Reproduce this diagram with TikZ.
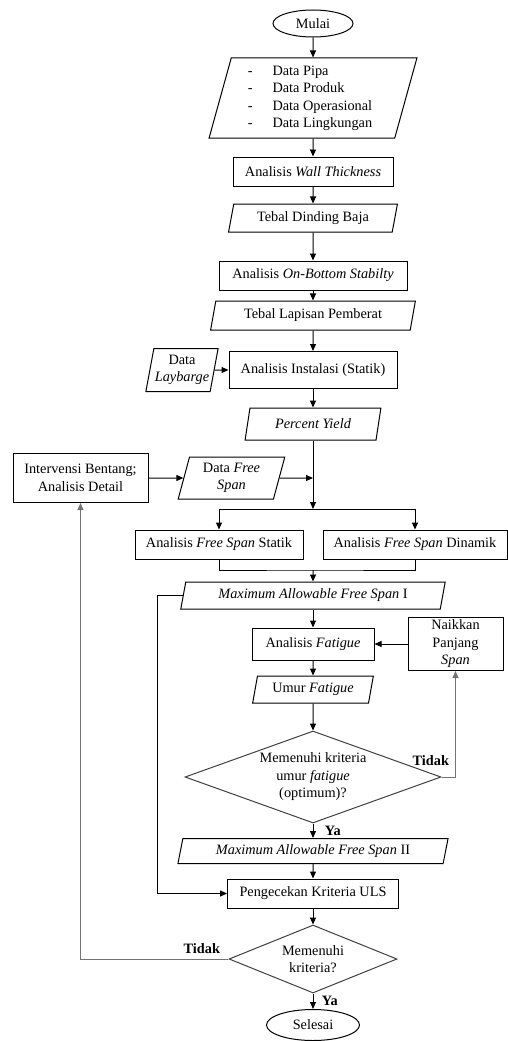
\documentclass[tikz,border=0pt]{standalone}
\usepackage{fontspec}
\setmainfont{Liberation Serif}
\usepackage{xcolor}
\usetikzlibrary{arrows.meta,shapes.geometric}
\tikzset{
  % font for all nodes
  every node/.append style={font=\fontsize{14.3}{17.5}\selectfont},
  % process box
  proc/.style={draw, line width=1pt, inner sep=1pt, align=center},
  % data (input / output)
  io/.style={trapezium, trapezium left angle=76, trapezium right angle=104,
    trapezium stretches=true, draw, line width=1pt, inner sep=1pt, align=center},
  % start / end
  term/.style={ellipse, draw, line width=1pt, inner sep=0pt},
  % decision
  decide/.style={diamond, draw=black!75, line width=1pt, inner sep=0pt, aspect=2.6, align=center},
  % arrows
  arr/.style={-{Triangle[length=7pt,width=6pt]}, line width=1pt},
  back/.style={arr, draw=black!55},
  lab/.style={font=\fontsize{14.3}{17.5}\selectfont\bfseries},
}

\begin{document}
\begin{tikzpicture}[x=1pt,y=-1pt]
  \useasboundingbox (0,0) rectangle (508,1041);

  % Main column
  \node[term, minimum width=80pt, minimum height=27pt] (mulai) at (313,23.5) {Mulai};
  \node[io, minimum width=208pt, minimum height=80pt] (data) at (313,98)
    {\begin{tabular}{@{}l@{\hspace{20pt}}l@{}}
      - & Data Pipa\\ - & Data Produk\\ - & Data Operasional\\ - & Data Lingkungan
    \end{tabular}\hspace*{6pt}};
  \node[proc, minimum width=160pt, minimum height=29pt] (wall) at (313,171.5) {Analisis \textit{Wall Thickness}};
  \node[io, minimum width=169pt, minimum height=28pt] (dinding) at (313,218) {Tebal Dinding Baja};
  \node[proc, minimum width=188pt, minimum height=29pt] (bottom) at (313,275.5) {Analisis \textit{On-Bottom Stabilty}};
  \node[io, minimum width=205pt, minimum height=29pt] (lapisan) at (313,315.5) {Tebal Lapisan Pemberat};
  \node[proc, minimum width=168pt, minimum height=37pt] (instal) at (313,370) {Analisis Instalasi (Statik)};
  \node[io, minimum width=72pt, minimum height=43pt] (laybarge) at (182,370) {Data\\\textit{Laybarge}};
  \node[io, minimum width=136pt, minimum height=32pt] (yield) at (313,424) {\textit{Percent Yield}};

  % Free span branch
  \node[proc, minimum width=135pt, minimum height=49pt] (bentang) at (80.5,478) {Intervensi Bentang;\\Analisis Detail};
  \node[io, minimum width=107pt, minimum height=42pt] (fsdata) at (231.5,478) {Data \textit{Free}\\\textit{Span}};
  \coordinate (join) at (313,478);
  \coordinate (split) at (313,509);
  \node[proc, minimum width=168pt, minimum height=29pt] (statik) at (219,544.5) {Analisis \textit{Free Span} Statik};
  \node[proc, minimum width=184pt, minimum height=29pt] (dinamik) at (415,544.5) {Analisis \textit{Free Span} Dinamik};
  \coordinate (merge) at (313,570);
  \node[io, minimum width=265pt, minimum height=27pt] (max1) at (313,595.5) {\textit{Maximum Allowable Free Span} I};

  % Fatigue loop
  \node[proc, minimum width=122pt, minimum height=32pt] (fatigue) at (313,644) {Analisis \textit{Fatigue}};
  \node[proc, minimum width=95pt, minimum height=53pt, inner sep=0pt] (naik) at (455.5,644) {Naikkan\\Panjang\\\textit{Span}};
  \node[io, minimum width=121pt, minimum height=27pt] (umur) at (313,689.5) {Umur \textit{Fatigue}};
  \node[decide, minimum width=256pt, minimum height=92pt] (dec1) at (313,777) {Memenuhi kriteria\\umur \textit{fatigue}\\(optimum)?};
  \node[io, minimum width=271pt, minimum height=25pt] (max2) at (313,851) {\textit{Maximum Allowable Free Span} II};

  % ULS check
  \node[proc, minimum width=171pt, minimum height=29pt] (cek) at (313,893.5) {Pengecekan Kriteria ULS};
  \node[decide, minimum width=168pt, minimum height=68pt] (dec2) at (313,959) {Memenuhi\\kriteria?};
  \node[term, minimum width=93pt, minimum height=31pt] (selesai) at (313,1025) {Selesai};

  % Connectors
  \draw[arr] (mulai) -- (data);
  \draw[arr] (data) -- (wall);
  \draw[arr] (wall) -- (dinding);
  \draw[arr] (dinding) -- (bottom);
  \draw[arr] (bottom) -- (lapisan);
  \draw[arr] (lapisan) -- (instal);
  \draw[arr] (laybarge) -- (instal);
  \draw[arr] (instal) -- (yield);
  \draw[arr] (yield) -- (split);
  \draw[arr] (bentang) -- (fsdata);
  \draw[arr] (fsdata) -- (join);
  \draw[arr] (split) -| (statik);
  \draw[arr] (split) -| (dinamik);
  \draw[line width=1pt] (statik) |- (merge) -| (dinamik);
  \draw[arr] (merge) -- (max1);
  \draw[arr] (max1.west) -- ++(-25,0) |- (cek);
  \draw[arr] (max1) -- (fatigue);
  \draw[arr] (naik) -- (fatigue);
  \draw[arr] (fatigue) -- (umur);
  \draw[arr] (umur) -- (dec1);
  \draw[back] (dec1) -| (naik);
  \node[lab, anchor=base east] (tidak1) at ([shift={(-3,-12)}]dec1.east -| naik.south) {Tidak};
  \draw[arr] (dec1) -- node[lab, right, xshift=8pt] (ya1) {Ya} (max2);
  \draw[arr] (max2) -- (cek);
  \draw[arr] (cek) -- (dec2);
  \draw[back] (dec2) -| (bentang);
  \node[lab, anchor=base east] (tidak2) at ([shift={(-5,-6)}]dec2.west) {Tidak};
  \draw[arr] (dec2) -- node[lab, right, xshift=5pt] (ya2) {Ya} (selesai);
\end{tikzpicture}
\end{document}
